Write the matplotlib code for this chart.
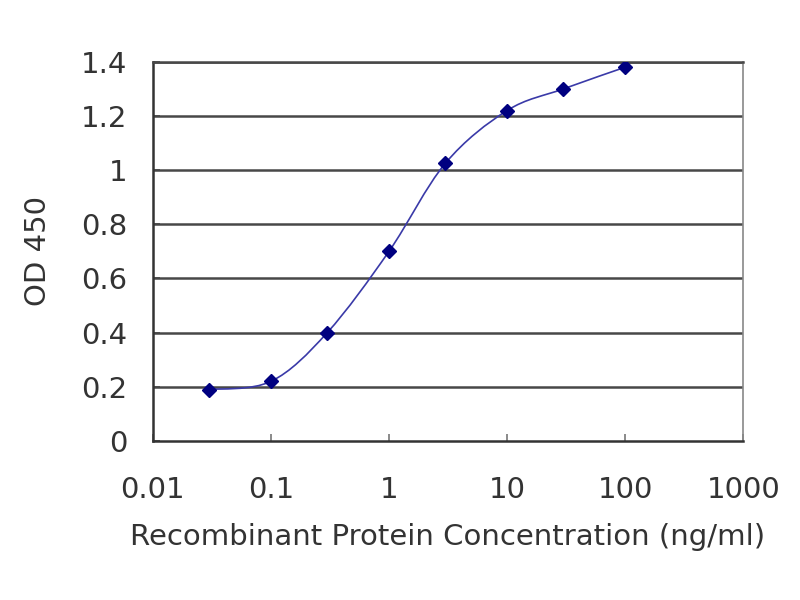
import numpy as np
import matplotlib

matplotlib.use("Agg")
import matplotlib.pyplot as plt  # noqa: E402
from matplotlib.path import Path  # noqa: E402
from matplotlib.patches import PathPatch  # noqa: E402

conc = [0.03, 0.1, 0.3, 1, 3, 10, 30, 100]
od450 = [0.19, 0.22, 0.40, 0.70, 1.025, 1.22, 1.30, 1.38]
x_ticks = [0.01, 0.1, 1, 10, 100, 1000]
x_tick_labels = ["0.01", "0.1", "1", "10", "100", "1000"]
y_ticks = [0, 0.2, 0.4, 0.6, 0.8, 1, 1.2, 1.4]
y_tick_labels = ["0", "0.2", "0.4", "0.6", "0.8", "1", "1.2", "1.4"]

LINE = "#3a3aa8"
MARK = "#000080"
GRID = "#484848"
TEXT = "#333333"
FONT = "DejaVu Sans"
SIZE = 21


def smooth_path(xs, ys):
    # Catmull-Rom through the points (in log-x space) as cubic Bezier segments
    lx = np.log10(xs)
    ys = np.asarray(ys, dtype=float)
    pts = np.column_stack([lx, ys])
    n = len(pts)
    verts = [pts[0]]
    codes = [Path.MOVETO]
    for i in range(n - 1):
        p0 = pts[i - 1] if i > 0 else pts[i]
        p1 = pts[i]
        p2 = pts[i + 1]
        p3 = pts[i + 2] if i + 2 < n else pts[i + 1]
        c1 = p1 + (p2 - p0) / 6.0
        c2 = p2 - (p3 - p1) / 6.0
        verts += [c1, c2, p2]
        codes += [Path.CURVE4] * 3
    verts = np.array(verts)
    verts[:, 0] = 10 ** verts[:, 0]
    return Path(verts, codes)


fig = plt.figure(figsize=(8, 6), dpi=100, facecolor="white")
ax = fig.add_axes([0.191, 0.265, 0.738, 0.632])

ax.set_xscale("log")
ax.set_xlim(0.01, 1000)
ax.set_ylim(0, 1.4)

for y in y_ticks[1:]:
    ax.axhline(y, color=GRID, linewidth=1.8, zorder=1)

ax.add_patch(PathPatch(smooth_path(conc, od450), facecolor="none",
                       edgecolor=LINE, linewidth=1.2, zorder=3))
ax.plot(conc, od450, linestyle="none", marker="D", markersize=7,
        color=MARK, zorder=4)

ax.set_xticks(x_ticks)
ax.set_xticklabels(x_tick_labels)
ax.xaxis.set_minor_locator(matplotlib.ticker.NullLocator())
ax.set_yticks(y_ticks)
ax.set_yticklabels(y_tick_labels)

ax.tick_params(axis="x", direction="in", length=5, width=1.2, color="#777777",
               labelsize=SIZE, pad=25, labelcolor=TEXT)
ax.tick_params(axis="y", direction="in", length=5, width=1.2, color=GRID,
               labelsize=SIZE, pad=18.5, labelcolor=TEXT)
for lab in ax.get_xticklabels() + ax.get_yticklabels():
    lab.set_fontfamily(FONT)

ax.spines["left"].set_color("#333333")
ax.spines["bottom"].set_color("#333333")
ax.spines["left"].set_linewidth(1.8)
ax.spines["bottom"].set_linewidth(1.8)
ax.spines["top"].set_color(GRID)
ax.spines["top"].set_linewidth(1.8)
ax.spines["right"].set_color("#888888")
ax.spines["right"].set_linewidth(1.2)

ax.set_xlabel("Recombinant Protein Concentration (ng/ml)", fontsize=SIZE,
              fontfamily=FONT, color=TEXT, labelpad=14)
ax.set_ylabel("OD 450", fontsize=SIZE, fontfamily=FONT, color=TEXT,
              labelpad=21)

fig.savefig("out.png", dpi=100, facecolor="white")
